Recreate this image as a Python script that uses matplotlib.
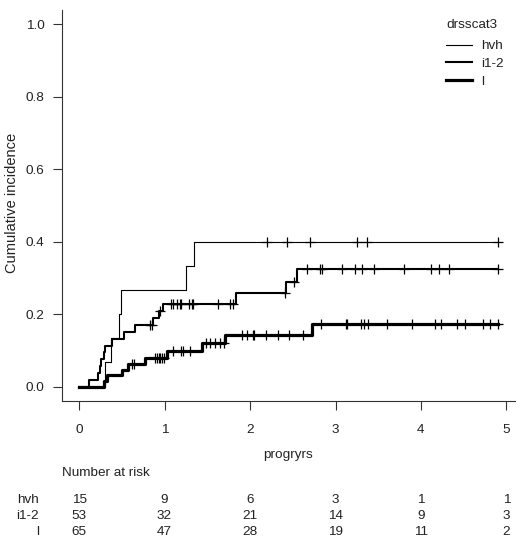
import numpy as np
import matplotlib
matplotlib.use('Agg')
from matplotlib import pyplot as plt

plt.rcParams['font.family'] = ['Liberation Sans', 'DejaVu Sans']
plt.rcParams['font.size'] = 9.7

# step curves: event times and cumulative incidence
groups = ['hvh', 'i1-2', 'l']

hvh_times = [0, 0.30, 0.37, 0.47, 0.49, 1.25, 1.345]
hvh_cif = [0, 0.067, 0.133, 0.200, 0.267, 0.333, 0.400]
hvh_cens = [2.195, 2.43, 2.70, 3.255, 3.365, 4.90]

i12_times = [0, 0.12, 0.22, 0.24, 0.26, 0.29, 0.30, 0.38, 0.52, 0.65,
             0.86, 0.93, 0.98, 1.836, 2.42, 2.546]
i12_cif = [0, 0.019, 0.038, 0.057, 0.075, 0.094, 0.113, 0.132, 0.151, 0.170,
           0.189, 0.208, 0.228, 0.257, 0.290, 0.325]
i12_cens = [0.83, 0.85, 0.95, 1.07, 1.10, 1.14, 1.18, 1.19, 1.29, 1.32, 1.33,
            1.63, 1.76, 1.80, 2.41, 2.52, 2.67, 2.82, 2.84, 3.08, 3.23, 3.31,
            3.45, 3.80, 4.12, 4.21, 4.33, 4.90]

l_times = [0, 0.295, 0.325, 0.50, 0.57, 0.77, 1.03, 1.44, 1.71, 2.73]
l_cif = [0, 0.015, 0.031, 0.046, 0.062, 0.080, 0.098, 0.120, 0.142, 0.174]
l_cens = [0.62, 0.64, 0.89, 0.91, 0.93, 0.95, 0.97, 0.99, 1.10, 1.19, 1.22,
          1.30, 1.49, 1.53, 1.59, 1.65, 1.70, 1.91, 1.97, 2.03, 2.05, 2.19,
          2.33, 2.45, 2.62, 2.83, 3.12, 3.14, 3.30, 3.33, 3.38, 3.60, 3.89,
          4.16, 4.24, 4.42, 4.51, 4.73, 4.81, 4.90]

# number at risk table
risk_times = [0, 1, 2, 3, 4, 5]
hvh_risk = [15, 9, 6, 3, 1, 1]
i12_risk = [53, 32, 21, 14, 9, 3]
l_risk = [65, 47, 28, 19, 11, 2]

W, H = 521, 550
TXT = '#222222'
fig = plt.figure(figsize=(W / 100, H / 100), dpi=100)
ax = fig.add_axes([62 / W, 1 - 401 / H, (515 - 62) / W, (401 - 10) / H])

curves = [(hvh_times, hvh_cif, hvh_cens, 0.8),
          (i12_times, i12_cif, i12_cens, 1.5),
          (l_times, l_cif, l_cens, 2.3)]
handles = []
for (t, y, c, lw), name in zip(curves, groups):
    t = np.array(t)
    y = np.array(y)
    c = np.array(c)
    tt = np.append(t, c.max())
    yy = np.append(y, y[-1])
    h, = ax.step(tt, yy, where='post', color='black', lw=lw, label=name)
    cy = y[np.searchsorted(t, c, side='right') - 1]
    ax.plot(c, cy, ls='none', marker='+', ms=7, mew=0.9, color='black')
    handles.append(h)

ax.set_xlim(-0.2, 5.1)
ax.set_ylim(-0.04, 1.04)
ax.set_xticks(risk_times)
ax.set_yticks(np.arange(0, 1.01, 0.2))
ax.set_yticklabels([f'{v:.1f}' for v in np.arange(0, 1.01, 0.2)])
ax.spines['top'].set_visible(False)
ax.spines['right'].set_visible(False)
for s in ['left', 'bottom']:
    ax.spines[s].set_linewidth(0.8)
    ax.spines[s].set_color('#333333')
ax.tick_params(length=6.5, width=0.8, color='#333333', labelsize=9.7,
               labelcolor=TXT)
ax.tick_params(axis='y', pad=6)
ax.tick_params(axis='x', pad=10)

fig.text(12 / W, 1 - 203 / H, 'Cumulative incidence', rotation=90,
         ha='center', va='center', color=TXT, fontsize=10.5)
fig.text(288 / W, 1 - 455 / H, 'progryrs', ha='center', va='center',
         color=TXT)
fig.text(62 / W, 1 - 473 / H, 'Number at risk', ha='left', va='center',
         color=TXT)

# number at risk rows, numbers placed under the x ticks
row_y = [500, 516, 532]
for name, risk, ypx in zip(groups, [hvh_risk, i12_risk, l_risk], row_y):
    fig.text(39 / W, 1 - ypx / H, name, ha='right', va='center', color=TXT)
    for t, n in zip(risk_times, risk):
        xf = fig.transFigure.inverted().transform(
            ax.transData.transform((t, 0)))[0]
        fig.text(xf, 1 - ypx / H, str(n), ha='center', va='center',
                 color=TXT)

# legend: title as its own text, left aligned with the handles
fig.text(446 / W, 1 - 25 / H, 'drsscat3', ha='left', va='center', color=TXT)
leg = ax.legend(handles=handles, frameon=False,
                loc='upper left', bbox_to_anchor=(446 / W, 1 - 40 / H),
                bbox_transform=fig.transFigure, borderpad=0,
                borderaxespad=0, handlelength=1.95, handletextpad=0.68,
                labelspacing=0.38, fontsize=9.7)
for t in leg.get_texts():
    t.set_color(TXT)

fig.savefig('out.png', dpi=100)
